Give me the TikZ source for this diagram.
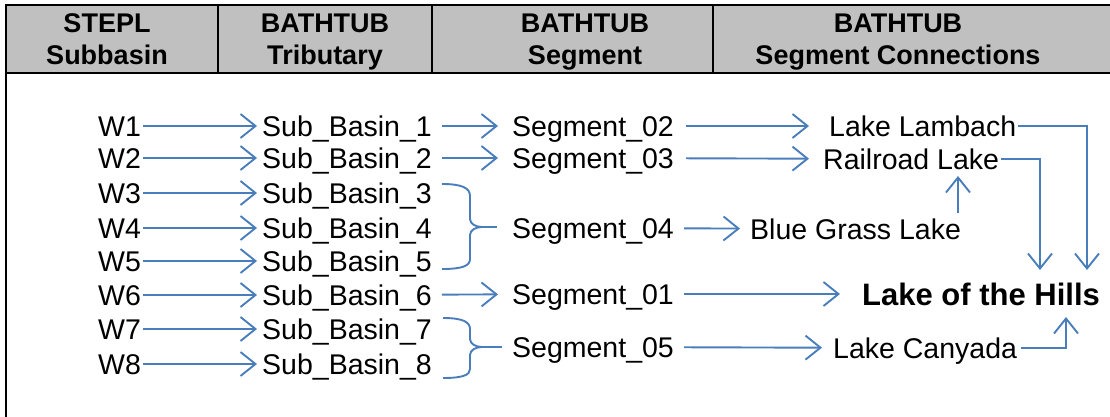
\documentclass[tikz,border=0pt]{standalone}
\usepackage{fontspec}
\setmainfont{Liberation Sans}
\usetikzlibrary{arrows.meta,calc}
\definecolor{flow}{RGB}{74,126,187}
\definecolor{hdr}{RGB}{192,192,192}
\begin{document}
\begin{tikzpicture}[x=1pt,y=-1pt,
 lbl/.style={inner sep=0pt, anchor=west, text height=21.6pt, text depth=0pt, font=\fontsize{28.5}{32}\selectfont},
 big/.style={inner sep=0pt, anchor=west, text height=23.6pt, text depth=0pt, font=\fontsize{31}{36}\selectfont\bfseries},
 hd/.style={inner sep=0pt, anchor=base, font=\fontsize{27}{32}\selectfont\bfseries},
 arr/.style={draw=flow, line width=1.9pt, -{Straight Barb[length=15pt,width=24pt]}},
 brace/.style={draw=flow, line width=1.9pt},
 grid/.style={draw=black, line width=2pt}]
\useasboundingbox (0,0) rectangle (1110,417);
% header
\fill[hdr] (6,5) rectangle (1110,73);
\draw[grid] (5,5) -- (1110,5);
\draw[grid] (5,73) -- (1110,73);
\draw[grid] (6,4) -- (6,417);
\foreach \x in {218,432,713} \draw[grid] (\x,5) -- (\x,73);
\node[hd] (h1a) at (107,33) {STEPL};
\node[hd] (h1b) at (107,65) {Subbasin};
\node[hd] (h2a) at (325,33) {BATHTUB};
\node[hd] (h2b) at (325,65) {Tributary};
\node[hd] (h3a) at (585,33) {BATHTUB};
\node[hd] (h3b) at (585,65) {Segment};
\node[hd] (h4a) at (898,33) {BATHTUB};
\node[hd] (h4b) at (898,65) {Segment Connections};
% STEPL and tributaries
\foreach \i/\y in {1/126,2/158,3/193,4/228,5/261,6/295,7/329,8/364}{
  \node[lbl] (w\i) at (98,\y) {W\i};
  \node[lbl] (sb\i) at (262,\y) {Sub\_Basin\_\i};
  \draw[arr, shorten <=2pt, shorten >=5pt] (w\i) -- (sb\i);
}
% segments
\node[lbl] (seg02) at (512,126) {Segment\_02};
\node[lbl] (seg03) at (512,158) {Segment\_03};
\node[lbl] (seg04) at (512,228) {Segment\_04};
\node[lbl] (seg01) at (512,294) {Segment\_01};
\node[lbl] (seg05) at (512,347) {Segment\_05};
% lakes
\node[lbl] (lambach) at (829,126) {Lake Lambach};
\node[lbl] (rail) at (823,159) {Railroad Lake};
\node[lbl] (blue) at (750,229) {Blue Grass Lake};
\node[big] (hills) at (862,294) {Lake of the Hills};
\node[lbl] (canyada) at (833,348) {Lake Canyada};
% tributary -> segment
\draw[arr, shorten <=10pt, shorten >=14pt] (sb1) -- (seg02);
\draw[arr, shorten <=10pt, shorten >=14pt] (sb2) -- (seg03);
\draw[arr, shorten <=10pt, shorten >=14pt] (sb6) -- (seg01);
% braces
\coordinate (b1) at (482,227);
\draw[brace] (442,184) .. controls (462,184) and (470,188) .. (470,196) -- (470,219)
  .. controls (470,224) and (476,227) .. (b1)
  .. controls (476,227) and (470,230) .. (470,235) -- (470,259)
  .. controls (470,266) and (462,269) .. (442,269);
\draw[brace, shorten >=15pt] (b1) -- (seg04.west |- b1);
\coordinate (b2) at (482,347);
\draw[brace] (443,318) .. controls (463,318) and (470,322) .. (470,329) -- (470,339)
  .. controls (470,344) and (476,347) .. (b2)
  .. controls (476,347) and (470,350) .. (470,355) -- (470,369)
  .. controls (470,375) and (463,378) .. (443,378);
\draw[brace, shorten >=10pt] (b2) -- (seg05.west |- b2);
% segment -> lake
\draw[arr, shorten <=12pt, shorten >=20pt] (seg02) -- (lambach);
\draw[arr, shorten <=12pt, shorten >=14pt] (seg03) -- (rail);
\draw[arr, shorten <=10pt, shorten >=10pt] (seg04) -- (blue);
\draw[arr, shorten <=10pt, shorten >=22pt] (seg01) -- (hills);
\draw[arr, shorten <=10pt, shorten >=11pt] (seg05) -- (canyada);
% lake connections
\coordinate (cB) at (958,0);
\coordinate (cL) at (1087,0);
\coordinate (cR) at (1040,0);
\coordinate (cC) at (1066,0);
\draw[arr, shorten <=5pt, shorten >=6pt] (blue.north -| cB) -- (rail.south -| cB);
\draw[arr, shorten <=2pt, shorten >=12pt] (lambach.east) -| (hills.north -| cL);
\draw[arr, shorten <=2pt, shorten >=12pt] (rail.east) -| (hills.north -| cR);
\draw[arr, shorten <=4pt, shorten >=11pt] (canyada.east) -| (hills.south -| cC);
\end{tikzpicture}
\end{document}
